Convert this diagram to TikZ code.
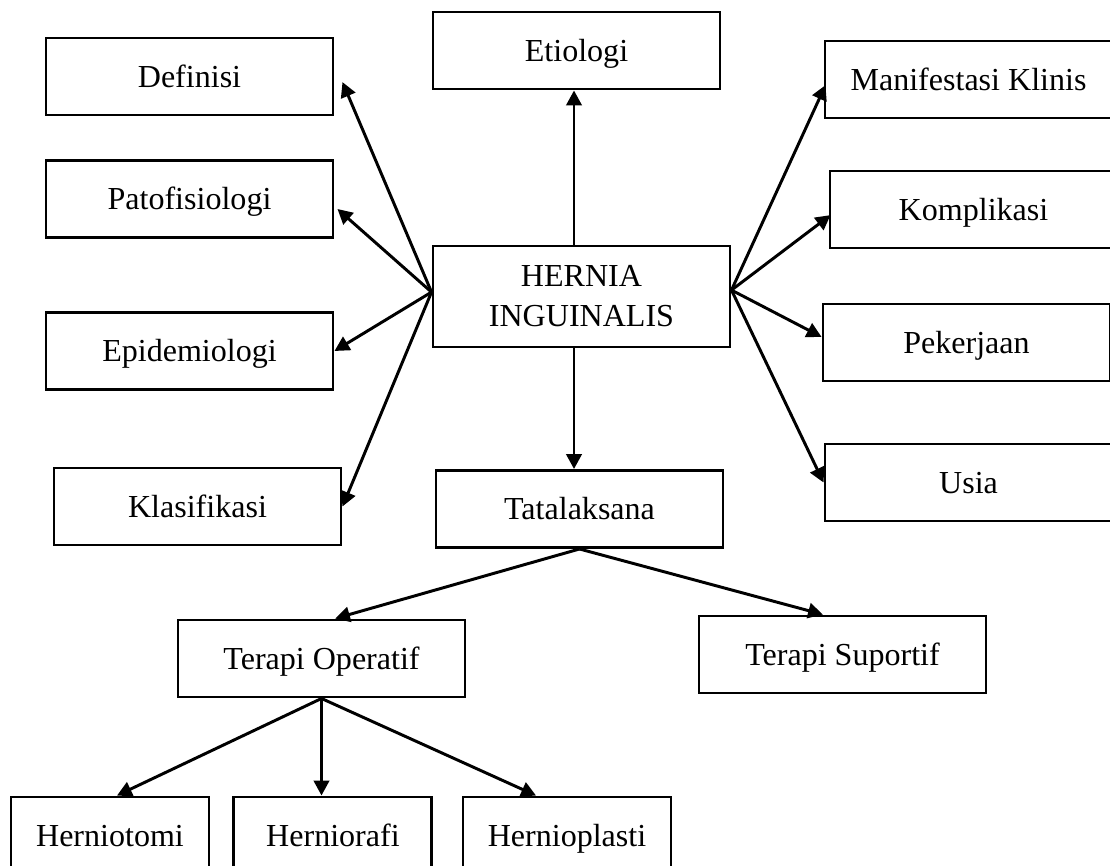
\documentclass[tikz,border=0pt]{standalone}
\usepackage{fontspec}
\setmainfont{Liberation Serif}
\usetikzlibrary{arrows.meta, positioning}

\begin{document}
\begin{tikzpicture}[
	block/.style={draw, line width=2.1pt, minimum height=1.925cm, minimum width=7.175cm, inner sep=0pt, text height=15pt, text depth=0pt},
	smallblock/.style={block, minimum width=4.95cm},
	bigblock/.style={draw, line width=2.1pt, minimum height=2.525cm, minimum width=7.425cm, inner sep=0pt, align=center},
	arrow/.style={-{Triangle[length=0.37cm, width=0.38cm]}, line width=2.1pt},
	font=\fontsize{22.8}{28.5}\selectfont
	]
	\useasboundingbox (0,0) rectangle (27.75,-21.625);

	\node[bigblock] (hernia) at (14.5375,-7.4125) {HERNIA\\INGUINALIS};
	\node[block] (etiologi) at (14.4125,-1.2625) {Etiologi};
	\node[block] (tatalaksana) at (14.4875,-12.725) {Tatalaksana};

	\node[block] (definisi) at (4.7375,-1.9125) {Definisi};
	\node[block] (patofisiologi) at (4.7375,-4.975) {Patofisiologi};
	\node[block] (epidemiologi) at (4.7375,-8.775) {Epidemiologi};
	\node[block] (klasifikasi) at (4.9375,-12.6625) {Klasifikasi};

	\node[block] (manifestasi) at (24.2125,-1.9875) {Manifestasi Klinis};
	\node[block] (komplikasi) at (24.3375,-5.2375) {Komplikasi};
	\node[block] (pekerjaan) at (24.1625,-8.5625) {Pekerjaan};
	\node[block] (usia) at (24.2125,-12.0625) {Usia};

	\node[block] (operatif) at (8.0375,-16.4625) {Terapi Operatif};
	\node[block] (suportif) at (21.0625,-16.3625) {Terapi Suportif};

	\node[smallblock] (herniotomi) at (2.75,-20.8875) {Herniotomi};
	\node[smallblock, right=0.55cm of herniotomi] (herniorafi) {Herniorafi};
	\node[smallblock, minimum width=5.2cm] (hernioplasti) at (14.175,-20.8875) {Hernioplasti};

	\coordinate (spine) at (14.35,0);
	\coordinate (lhub) at ([yshift=1.1mm]hernia.west);
	\coordinate (rhub) at ([yshift=1.6mm]hernia.east);

	% Connections
	\draw[arrow] (hernia.north -| spine) -- (etiologi.south -| spine);
	\draw[arrow] (hernia.south -| spine) -- (tatalaksana.north -| spine);
	\draw[arrow] (lhub) -- ([shift={(2mm,-1.4mm)}]definisi.east);
	\draw[arrow] (lhub) -- ([shift={(0.75mm,-2.5mm)}]patofisiologi.east);
	\draw[arrow] (lhub) -- (epidemiologi.east);
	\draw[arrow] (lhub) -- (klasifikasi.east);
	\draw[arrow] (rhub) -- ([shift={(0.5mm,-1.4mm)}]manifestasi.west);
	\draw[arrow] (rhub) -- ([shift={(0.5mm,-1.4mm)}]komplikasi.west);
	\draw[arrow] (rhub) -- ([shift={(0mm,1.4mm)}]pekerjaan.west);
	\draw[arrow] (rhub) -- (usia.west);
	\draw[arrow] (tatalaksana.south) -- ([xshift=3.4mm]operatif.north);
	\draw[arrow] (tatalaksana.south) -- ([xshift=-4.9mm]suportif.north);
	\draw[arrow] (operatif.south) -- ([xshift=1.75mm]herniotomi.north);
	\draw[arrow] (operatif.south) -- (operatif.south |- herniorafi.north);
	\draw[arrow] (operatif.south) -- ([xshift=-7.75mm]hernioplasti.north);

\end{tikzpicture}
\end{document}
